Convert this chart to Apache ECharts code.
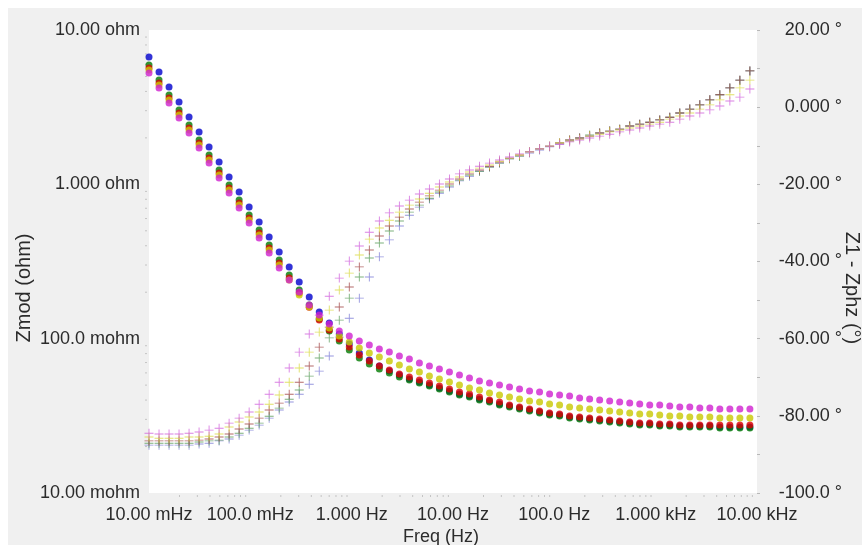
<!DOCTYPE html>
<html><head><meta charset="utf-8">
<script src="https://cdn.jsdelivr.net/npm/echarts@6/dist/echarts.min.js"></script>
<style>
html,body{margin:0;padding:0;background:#fff}
#wrap{position:relative;width:862px;height:545px;overflow:hidden}
#panel{position:absolute;left:8px;top:8px;right:0;bottom:0;background:#f0f0f0}
#c{position:absolute;left:0;top:0;width:862px;height:545px}
</style>
</head><body><div id="wrap"><div id="panel"></div><div id="c"></div></div>
<script>
// ---------- data ----------
const freqHz = [0.01,0.01256,0.01577,0.01979,0.02485,0.0312,0.03917,0.04918,0.06174,0.07752,0.09734,0.1222,0.1534,0.1927,0.2419,0.3037,0.3813,0.4787,0.601,0.7546,0.9475,1.19,1.494,1.876,2.355,2.957,3.712,4.661,5.852,7.345,9.224,11.58,14.54,18.25,22.92,28.77,36.13,45.36,56.95,71.5,89.78,112.7,141.5,177.7,223.1,280.1,351.7,441.6,554.4,696.1,874,1097,1378,1730,2172,2727,3424,4298,5397,6776,8508];

const zmodBlue = [6.683,5.344,4.272,3.416,2.731,2.183,1.745,1.396,1.116,0.8918,0.7129,0.57,0.4557,0.3643,0.2912,0.2329,0.1862,0.1489,0.1263,0.1072,0.0923,0.0807,0.0727,0.0665,0.0617,0.0581,0.0548,0.0524,0.0501,0.0479,0.0458,0.0438,0.0425,0.0406,0.0394,0.0377,0.0366,0.0355,0.0345,0.0335,0.0325,0.032,0.0311,0.0306,0.0302,0.0297,0.0293,0.0288,0.0284,0.028,0.028,0.0276,0.0276,0.0272,0.0272,0.0272,0.0272,0.0268,0.0268,0.0268,0.0268];
const zmodGreen = [5.93,4.742,3.791,3.031,2.423,1.937,1.549,1.239,0.9899,0.7914,0.6326,0.5058,0.4044,0.3233,0.2584,0.2067,0.1652,0.1341,0.1121,0.0966,0.0844,0.0749,0.0685,0.0636,0.0599,0.0564,0.054,0.0516,0.0493,0.0472,0.0451,0.0431,0.0419,0.04,0.0389,0.0372,0.0361,0.035,0.034,0.033,0.032,0.0315,0.0306,0.0302,0.0297,0.0293,0.0288,0.0284,0.028,0.0276,0.0276,0.0272,0.0272,0.0268,0.0268,0.0268,0.0268,0.0264,0.0264,0.0264,0.0264];
const zmodRed = [5.672,4.535,3.626,2.899,2.318,1.853,1.481,1.185,0.9467,0.7569,0.605,0.4838,0.3868,0.3092,0.2471,0.1977,0.16,0.1321,0.1138,0.0995,0.0883,0.0783,0.0716,0.0665,0.0626,0.059,0.0564,0.054,0.0516,0.0493,0.0472,0.0451,0.0438,0.0419,0.04,0.0389,0.0372,0.0361,0.035,0.034,0.033,0.0325,0.0315,0.0311,0.0306,0.0302,0.0297,0.0293,0.0288,0.0284,0.0284,0.028,0.028,0.0276,0.0276,0.0276,0.0276,0.0276,0.0276,0.0276,0.0276];
const zmodYellow = [5.504,4.401,3.518,2.813,2.249,1.798,1.437,1.15,0.9187,0.7345,0.5871,0.4694,0.3753,0.3,0.2398,0.1918,0.1603,0.1361,0.1173,0.104,0.0951,0.087,0.0807,0.076,0.0716,0.0675,0.0636,0.0608,0.0573,0.0548,0.0524,0.0501,0.0479,0.0465,0.0444,0.0431,0.0419,0.0406,0.0394,0.0389,0.0377,0.0372,0.0361,0.0355,0.035,0.0345,0.034,0.0335,0.033,0.0325,0.0325,0.032,0.0315,0.0315,0.0311,0.0311,0.0311,0.0306,0.0306,0.0306,0.0306];
const zmodMagenta = [5.264,4.209,3.365,2.69,2.151,1.719,1.374,1.099,0.8786,0.7024,0.5615,0.4489,0.3589,0.2869,0.2399,0.2006,0.1652,0.1423,0.1245,0.1121,0.104,0.0966,0.091,0.0857,0.0819,0.0772,0.0738,0.0696,0.0665,0.0636,0.0608,0.0581,0.0556,0.0532,0.0516,0.0501,0.0486,0.0472,0.0458,0.0451,0.0438,0.0431,0.0425,0.0413,0.0406,0.04,0.0394,0.0389,0.0383,0.0377,0.0372,0.0372,0.0366,0.0361,0.0361,0.0355,0.0355,0.035,0.035,0.035,0.035];

const phzBlue = [-87.6,-87.6,-87.6,-87.6,-87.6,-87.3,-87.1,-86.5,-86.0,-85.0,-83.7,-82.4,-80.6,-78.5,-76.4,-74.4,-71.8,-68.4,-64.5,-59.6,-54.7,-49.5,-44.0,-38.8,-34.4,-30.8,-28.0,-25.9,-23.8,-22.3,-20.7,-19.1,-17.9,-16.6,-15.5,-14.5,-13.4,-12.7,-11.9,-11.1,-10.3,-9.6,-8.8,-8.0,-7.5,-6.7,-6.2,-5.7,-4.9,-4.4,-3.9,-3.3,-2.6,-1.5,-0.5,0.6,1.9,3.2,5.0,7.0,9.4];
const phzGreen = [-87.1,-87.1,-87.1,-87.1,-87.1,-86.8,-86.5,-86.3,-85.5,-84.5,-83.2,-81.9,-80.1,-78.0,-75.7,-73.3,-69.7,-65.0,-59.8,-55.2,-49.5,-44.0,-39.1,-35.2,-32.1,-29.5,-27.2,-25.4,-23.6,-22.0,-20.4,-18.9,-17.6,-16.6,-15.5,-14.5,-13.4,-12.7,-11.6,-10.8,-10.1,-9.3,-8.5,-8.0,-7.2,-6.7,-6.2,-5.7,-4.9,-4.4,-3.9,-3.3,-2.6,-1.5,-0.5,0.6,1.9,3.2,5.0,7.0,9.4];
const phzRed = [-86.5,-86.5,-86.5,-86.5,-86.5,-86.3,-86.0,-85.5,-84.7,-83.4,-82.1,-80.6,-78.5,-76.7,-74.4,-71.3,-67.1,-62.2,-57.0,-51.8,-46.6,-41.4,-37.0,-33.4,-30.8,-28.5,-26.4,-24.6,-23.0,-21.5,-19.9,-18.6,-17.3,-16.3,-15.3,-14.2,-13.2,-12.4,-11.6,-10.8,-10.1,-9.3,-8.5,-8.0,-7.5,-6.7,-6.2,-5.7,-4.9,-4.4,-3.9,-3.3,-2.6,-1.5,-0.5,0.6,1.9,3.2,5.0,7.0,9.4];
const phzYellow = [-85.5,-85.8,-85.8,-85.8,-85.5,-85.5,-85.3,-84.7,-82.9,-81.6,-80.3,-79.0,-77.0,-74.6,-71.3,-67.6,-63.5,-58.3,-52.6,-47.4,-43.0,-38.3,-34.2,-31.3,-29.3,-27.2,-25.4,-23.8,-22.3,-20.7,-19.4,-18.1,-16.8,-15.8,-15.0,-14.0,-13.2,-12.4,-11.6,-10.8,-10.1,-9.3,-8.8,-8.3,-7.5,-7.0,-6.4,-5.9,-5.4,-4.9,-4.4,-3.9,-3.1,-2.3,-1.5,-0.5,0.6,1.9,3.2,5.0,7.0];
const phzMagenta = [-84.5,-84.7,-84.7,-84.7,-84.5,-84.2,-83.7,-83.2,-81.9,-80.6,-79.0,-77.0,-74.4,-71.3,-67.6,-63.5,-58.8,-53.9,-49.0,-44.3,-39.9,-36.0,-32.4,-29.5,-27.4,-25.6,-24.1,-22.5,-21.2,-19.9,-18.6,-17.3,-16.3,-15.3,-14.5,-13.7,-12.9,-12.1,-11.6,-10.8,-10.1,-9.6,-9.0,-8.5,-8.0,-7.5,-7.0,-6.4,-5.9,-5.4,-4.9,-4.4,-3.9,-3.1,-2.3,-1.5,-0.7,0.3,1.6,2.6,4.7];

const xTickVals = [0.01,0.1,1,10,100,1000,10000];
const xTickLabels = ['10.00 mHz','100.0 mHz','1.000 Hz','10.00 Hz','100.0 Hz','1.000 kHz','10.00 kHz'];
const zTickVals = [0.01,0.1,1,10];
const zTickLabels = ['10.00 mohm','100.0 mohm','1.000 ohm','10.00 ohm'];
const phTickVals = [-100,-80,-60,-40,-20,0,20];
const phTickLabels = ['-100.0 °','-80.00 °','-60.00 °','-40.00 °','-20.00 °','0.000 °','20.00 °'];

const xTitle = 'Freq (Hz)';
const yLeftTitle = 'Zmod (ohm)';
const yRightTitle = 'Z1 - Zphz (°)';

// ---------- chart ----------
const FONT = '"Liberation Sans", Arial, sans-serif';
const TXT = '#2b2b2b';
const FS = 18;
function lookup(vals, labels, v) {
  for (let i = 0; i < vals.length; i++) {
    if (Math.abs(Math.log10(v) - Math.log10(vals[i])) < 1e-6) return labels[i];
  }
  return '';
}
function pairs(ys) { return freqHz.map((f, i) => [f, ys[i]]); }

const minorX = [];
for (let k = -2; k <= 3; k++) for (let m = 2; m <= 9; m++) minorX.push(m * Math.pow(10, k));
const minorY = [];
for (let k = -2; k <= 0; k++) for (let m = 2; m <= 9; m++) minorY.push(m * Math.pow(10, k));

const PLUS = 'path://M0,4.5H10V5.5H0Z M4.5,0H5.5V10H4.5Z';
const dotColors = {blue:'#0000cc', green:'#007a00', red:'#dd0000', yellow:'#c8c800', magenta:'#d020d0'};
const plusColors = {blue:'#7c7cd6', green:'#5a9e5a', red:'#a04444', yellow:'#d8d840', magenta:'#d060dc'};

function dotSeries(name, ys, color) {
  return {name, type:'scatter', xAxisIndex:0, yAxisIndex:0, symbol:'circle', symbolSize:7,
    itemStyle:{color}, data:pairs(ys), z:3};
}
function plusSeries(name, ys, color) {
  return {name, type:'scatter', xAxisIndex:0, yAxisIndex:1, symbol:PLUS, symbolSize:9,
    itemStyle:{color}, data:pairs(ys), z:2};
}

const chart = echarts.init(document.getElementById('c'), null, {renderer:'canvas'});
chart.setOption({
  animation:false,
  backgroundColor:'transparent',
  grid:{left:149, right:105, top:30, bottom:52, show:true, backgroundColor:'#ffffff', borderWidth:0},
  xAxis:{type:'log', logBase:10, min:0.01, max:10000, splitNumber:6,
    axisLine:{show:false}, splitLine:{show:false}, axisTick:{show:false},
    axisLabel:{margin:13, fontSize:FS, color:TXT, fontFamily:FONT, showMinLabel:true, showMaxLabel:true,
      formatter:v => lookup(xTickVals, xTickLabels, v)}},
  yAxis:[
    {type:'log', logBase:10, min:0.01, max:10, splitNumber:3, position:'left',
      axisLine:{show:false}, splitLine:{show:false}, axisTick:{show:false},
      axisLabel:{margin:9, fontSize:FS, color:TXT, fontFamily:FONT,
        formatter:v => lookup(zTickVals, zTickLabels, v)}},
    {type:'value', min:-100, max:20, interval:20, position:'right',
      axisLine:{show:false}, splitLine:{show:false},
      axisTick:{show:true, length:3, lineStyle:{color:'#b8b8b8'}},
      minorTick:{show:true, splitNumber:2, length:3, lineStyle:{color:'#b8b8b8'}},
      axisLabel:{margin:85, align:'right', fontSize:FS, color:TXT, fontFamily:FONT,
        formatter:v => phTickLabels[phTickVals.indexOf(v)] || ''}}
  ],
  graphic:[
    {type:'text', x:441, y:537, style:{text:xTitle, font:'18px ' + FONT, fill:TXT, textAlign:'center', textVerticalAlign:'middle'}},
    {type:'text', x:24, y:288, rotation:Math.PI/2, style:{text:yLeftTitle, font:'20px ' + FONT, fill:TXT, textAlign:'center', textVerticalAlign:'middle'}},
    {type:'text', x:852, y:288, rotation:-Math.PI/2, style:{text:yRightTitle, font:'20px ' + FONT, fill:TXT, textAlign:'center', textVerticalAlign:'middle'}}
  ],
  series:[
    {type:'custom', xAxisIndex:0, yAxisIndex:0, clip:false, silent:true, z:1,
      data:minorX.map(v => [v]),
      renderItem:(params, api) => {
        const p = api.coord([api.value(0), 0.01]);
        return {type:'line', shape:{x1:p[0], y1:p[1]+2, x2:p[0], y2:p[1]+4}, style:{stroke:'#c4c4c4', lineWidth:1}};
      }},
    {type:'custom', xAxisIndex:0, yAxisIndex:0, clip:false, silent:true, z:1,
      data:minorY.map(v => [v]),
      renderItem:(params, api) => {
        const p = api.coord([0.01, api.value(0)]);
        return {type:'line', shape:{x1:p[0]-4, y1:p[1], x2:p[0]-2, y2:p[1]}, style:{stroke:'#c4c4c4', lineWidth:1}};
      },
      encode:{y:0}},
    plusSeries('Zphz blue', phzBlue, plusColors.blue),
    plusSeries('Zphz green', phzGreen, plusColors.green),
    plusSeries('Zphz red', phzRed, plusColors.red),
    plusSeries('Zphz yellow', phzYellow, plusColors.yellow),
    plusSeries('Zphz magenta', phzMagenta, plusColors.magenta),
    dotSeries('Zmod blue', zmodBlue, dotColors.blue),
    dotSeries('Zmod green', zmodGreen, dotColors.green),
    dotSeries('Zmod red', zmodRed, dotColors.red),
    dotSeries('Zmod yellow', zmodYellow, dotColors.yellow),
    dotSeries('Zmod magenta', zmodMagenta, dotColors.magenta)
  ]
});
</script>
</body></html>
